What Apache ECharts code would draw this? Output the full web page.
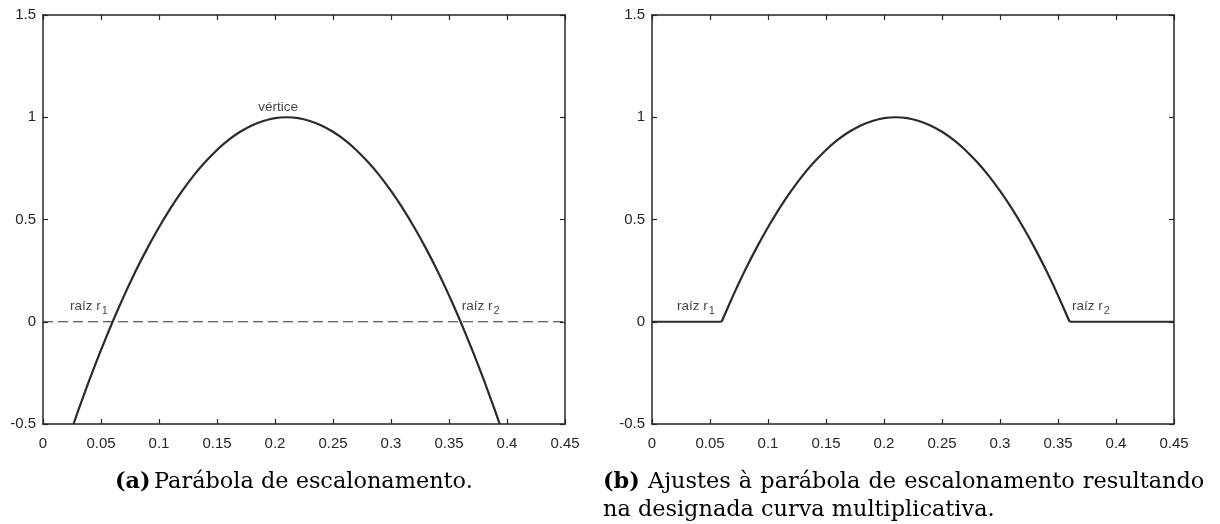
<!DOCTYPE html>
<html><head><meta charset="utf-8">
<script src="https://cdn.jsdelivr.net/npm/echarts@6/dist/echarts.min.js"></script>
<style>html,body{margin:0;padding:0;background:#fff}#c{width:1220px;height:524px}</style>
</head><body><div id="c"></div>
<script>
// Parabola of scaling: vertex 0.21 -> 1, roots 0.06 and 0.36
const parabolaX = [0.0263,0.03,0.04,0.05,0.06,0.07,0.08,0.09,0.10,0.11,0.12,0.13,0.14,0.15,0.16,0.17,0.18,0.19,0.20,0.21,
                   0.22,0.23,0.24,0.25,0.26,0.27,0.28,0.29,0.30,0.31,0.32,0.33,0.34,0.35,0.36,0.37,0.38,0.39,0.3937];
const parabolaY = [-0.5,-0.44,-0.284,-0.138,0,0.129,0.249,0.36,0.462,0.556,0.64,0.716,0.782,0.84,0.889,0.929,0.96,0.982,0.996,1,
                   0.996,0.982,0.96,0.929,0.889,0.84,0.782,0.716,0.64,0.556,0.462,0.36,0.249,0.129,0,-0.138,-0.284,-0.44,-0.5];
const flatLeftX = [0, 0.06];
const flatRightX = [0.36, 0.45];
const flatY = [0, 0];
const zeroLineX = [0, 0.45];
const xTicks = [0,0.05,0.1,0.15,0.2,0.25,0.3,0.35,0.4,0.45];
const yTicks = [-0.5,0,0.5,1,1.5];
const root1 = 0.06, root2 = 0.36;

const dark = '#262626';
const curveColor = '#2b2b2b';
const labelFont = '"Liberation Sans", Arial, sans-serif';
const serif = '"DejaVu Serif", serif';

function zip(xs, ys){ return xs.map((x,i)=>[x, ys[i]]); }
const fullCurve = zip(parabolaX, parabolaY);
const clippedCurve = fullCurve.filter(p => p[0] >= root1 - 1e-9 && p[0] <= root2 + 1e-9);

const grids = [
  {left:43, top:15, width:522, height:409},
  {left:652, top:15, width:522, height:409}
];
const xAxes = [], yAxes = [];
grids.forEach((g, gi) => {
  const base = {
    type:'value', min:0, max:0.45, interval:0.05, gridIndex:gi,
    axisLine:{show:true, onZero:false, lineStyle:{color:dark, width:1.5}},
    axisTick:{show:true, inside:true, length:5, lineStyle:{color:dark, width:1.2}},
    splitLine:{show:false}
  };
  xAxes.push(Object.assign({}, base, {position:'bottom',
    axisLabel:{show:true, color:dark, fontSize:15, fontFamily:labelFont, margin:12,
      formatter: v => String(+v.toFixed(2))}}));
  xAxes.push(Object.assign({}, base, {position:'top', axisLabel:{show:false}}));
  const ybase = {
    type:'value', min:-0.5, max:1.5, interval:0.5, gridIndex:gi,
    axisLine:{show:true, onZero:false, lineStyle:{color:dark, width:1.5}},
    axisTick:{show:true, inside:true, length:5, lineStyle:{color:dark, width:1.2}},
    splitLine:{show:false}
  };
  yAxes.push(Object.assign({}, ybase, {position:'left',
    axisLabel:{show:true, color:dark, fontSize:15, fontFamily:labelFont, margin:7,
      formatter: v => String(+v.toFixed(2))}}));
  yAxes.push(Object.assign({}, ybase, {position:'right', axisLabel:{show:false}}));
});

const richStyle = {
  a:{fontSize:13.5, fontFamily:labelFont, color:'#111'},
  s:{fontSize:11, fontFamily:labelFont, color:'#111', padding:[11,0,0,1]}
};
function textSeries(xi, yi, points){
  return {
    type:'scatter', xAxisIndex:xi, yAxisIndex:yi, symbolSize:0, silent:true,
    data: points.map(p => ({value:[p[0], p[1]], label:{show:true, position:[0,0], align:'left', verticalAlign:'middle',
      formatter:p[2], rich:richStyle}}))
  };
}

const capRich = {
  b:{fontFamily:serif, fontWeight:'bold', fontSize:22.4, fill:'#000'},
  r:{fontFamily:serif, fontSize:22.4, fill:'#000'},
  g:{fontFamily:serif, fontSize:22.4, fill:'#000', padding:[0,1,0,0]}
};
const line1Words = ['Ajustes','à','parábola','de','escalonamento','resultando'];
const line1 = '{b|(b)}{g| }' + line1Words.map(w => '{r|' + w + '}').join('{g| }');

const option = {
  animation:false,
  grid:grids,
  xAxis:xAxes,
  yAxis:yAxes,
  series:[
    {type:'line', xAxisIndex:0, yAxisIndex:0, data:zip(zeroLineX, flatY), showSymbol:false,
      lineStyle:{color:'#333', width:1, type:[10,5]}},
    {type:'line', xAxisIndex:0, yAxisIndex:0, data:fullCurve, showSymbol:false, smooth:0.2,
      lineStyle:{color:curveColor, width:2.2}},
    textSeries(0, 0, [[0.1855, 1.05, '{a|vértice}'], [0.0233, 0.078, '{a|raíz r}{s|1}'], [0.361, 0.078, '{a|raíz r}{s|2}']]),
    {type:'line', xAxisIndex:2, yAxisIndex:2, data:zip(flatLeftX, flatY), showSymbol:false,
      lineStyle:{color:curveColor, width:2.2}},
    {type:'line', xAxisIndex:2, yAxisIndex:2, data:clippedCurve, showSymbol:false, smooth:0.2,
      lineStyle:{color:curveColor, width:2.2}},
    {type:'line', xAxisIndex:2, yAxisIndex:2, data:zip(flatRightX, flatY), showSymbol:false,
      lineStyle:{color:curveColor, width:2.2}},
    textSeries(2, 2, [[0.0216, 0.078, '{a|raíz r}{s|1}'], [0.362, 0.078, '{a|raíz r}{s|2}']])
  ],
  graphic:[
    {type:'text', left:115, top:471, style:{text:'{b|(a)} {r|Parábola de escalonamento.}', rich:capRich}},
    {type:'text', left:603, top:471, style:{text:line1, rich:capRich}},
    {type:'text', left:603, top:499, style:{text:'na designada curva multiplicativa.',
      fontFamily:serif, fontSize:22.4, fill:'#000'}}
  ]
};
echarts.init(document.getElementById('c')).setOption(option);
</script></body></html>
